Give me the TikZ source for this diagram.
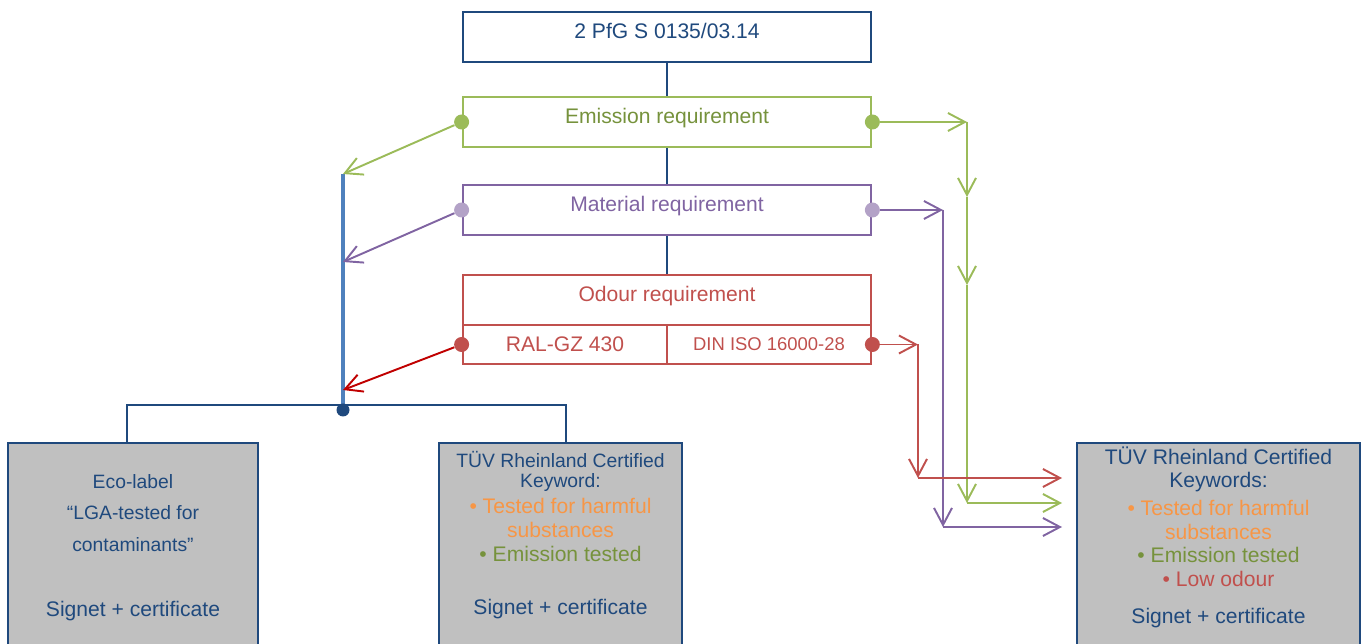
\documentclass[tikz,border=0pt]{standalone}
\usepackage{fontspec}
\setmainfont{Liberation Sans}
\usepackage{tikz}
\usetikzlibrary{arrows.meta}
\usetikzlibrary{positioning}
\usetikzlibrary{calc}

\definecolor{navy}{HTML}{1F497D}
\definecolor{lineblue}{HTML}{4F81BD}
\definecolor{emigreen}{HTML}{9BBB59}
\definecolor{textgreen}{HTML}{76923C}
\definecolor{matpurple}{HTML}{8064A2}
\definecolor{lightpurple}{HTML}{B3A2C7}
\definecolor{odred}{HTML}{C0504D}
\definecolor{darkred}{HTML}{C00000}
\definecolor{bulletorange}{HTML}{F79646}
\definecolor{cardgray}{HTML}{C0C0C0}

\tikzstyle{req} = [draw, rectangle, line width=1.6pt, minimum width=8.16cm, minimum height=1cm, text height=3mm, text depth=2.4mm, font=\fontsize{12}{14}\selectfont]
\tikzstyle{cell} = [draw=odred, text=odred, rectangle, line width=1.6pt, minimum width=4.08cm, minimum height=0.78cm]
\tikzstyle{card} = [draw=navy, fill=cardgray, rectangle, line width=1.6pt, minimum height=4.32cm]
\tikzstyle{dot} = [circle, inner sep=0pt, minimum size=0.3cm]
\tikzstyle{flow} = [-{Straight Barb[length=3.4mm, width=3.6mm]}, line width=1.1pt]
\tikzstyle{link} = [navy, line width=1.6pt]
\tikzstyle{big} = [font=\fontsize{12}{13.6}\selectfont, align=center]

\begin{document}
\begin{tikzpicture}[x=0.02cm, y=-0.02cm]
    \useasboundingbox (0,0) rectangle (1366,644);

    % requirement boxes
    \node[req, draw=navy, text=navy] (pfg) at (667,37) {2 PfG S 0135/03.14};
    \node[req, draw=emigreen, text=textgreen] (emis) at (667,122) {Emission requirement};
    \node[req, draw=matpurple, text=matpurple] (mat) at (667,210) {Material requirement};
    \node[req, draw=odred, text=odred] (odour) at (667,300) {Odour requirement};
    \node[cell, font=\fontsize{12}{14}\selectfont] (ral) at (565,344.5) {RAL-GZ 430};
    \node[cell, font=\fontsize{10.5}{12}\selectfont] (din) at (769,344.5) {DIN ISO 16000-28};

    \draw[link] (pfg) -- (emis);
    \draw[link] (emis) -- (mat);
    \draw[link] (mat) -- (odour);

    % labels at the bottom
    \node[card, minimum width=5cm] (eco) at (133,551) {};
    \node[card, minimum width=4.86cm] (tuevA) at (560.5,551) {};
    \node[card, minimum width=5.66cm] (tuevB) at (1218.5,551) {};

    \node[navy, align=center, font=\fontsize{11}{18.1}\selectfont] (ecotext) at (133,513)
       {Eco-label\\“LGA-tested for\\contaminants”};
    \node[navy, big] (ecosig) at (133,611) {Signet + certificate};

    \node[navy, align=center, font=\fontsize{11}{11.4}\selectfont] (tuevAhead) at (560.5,471)
       {TÜV Rheinland Certified\\Keyword:};
    \node[big] (tuevAitems) at (560.5,530)
       {\textcolor{bulletorange}{• Tested for harmful}\\
        \textcolor{bulletorange}{substances}\\
        \textcolor{textgreen}{• Emission tested}};
    \node[navy, big] (tuevAsig) at (560.5,609) {Signet + certificate};

    \node[navy, font=\fontsize{12}{13}\selectfont, align=center] (tuevBhead) at (1218.5,469.5)
       {TÜV Rheinland Certified\\Keywords:};
    \node[big] (tuevBitems) at (1218.5,543.5)
       {\textcolor{bulletorange}{• Tested for harmful}\\
        \textcolor{bulletorange}{substances}\\
        \textcolor{textgreen}{• Emission tested}\\
        \textcolor{odred}{• Low odour}};
    \node[navy, big] (tuevBsig) at (1218.5,618) {Signet + certificate};

    % trunk on the left
    \coordinate (hitE) at (343,174);
    \coordinate (hitM) at (343,262);
    \coordinate (hitO) at (343,390);
    \coordinate (split) at (343,405);
    \draw[lineblue, line width=1.8pt] (hitE) -- (split);
    \draw[link] ([xshift=-0.12cm]eco.north) |- (split) -| ([xshift=0.11cm]tuevA.north);
    \node[dot, fill=navy, minimum size=0.26cm] (knot) at (343,410) {};

    % connection dots
    \node[dot, fill=emigreen] (emisL) at (emis.west) {};
    \node[dot, fill=emigreen] (emisR) at (emis.east) {};
    \node[dot, fill=lightpurple] (matL) at (mat.west) {};
    \node[dot, fill=lightpurple] (matR) at (mat.east) {};
    \node[dot, fill=odred] (ralL) at (ral.west) {};
    \node[dot, fill=odred] (dinR) at (din.east) {};

    \draw[flow, emigreen] (emisL) -- (hitE);
    \draw[flow, matpurple] (matL) -- (hitM);
    \draw[flow, darkred] (ralL) -- (hitO);

    % routes to the right label
    \coordinate (gA) at (967,122);
    \coordinate (gB) at (967,197);
    \coordinate (gC) at (967,285);
    \coordinate (gD) at (967,503);
    \coordinate (gE) at (1062,503);
    \coordinate (pA) at (943,210);
    \coordinate (pB) at (943,527);
    \coordinate (pC) at (1062,527);
    \coordinate (rA) at (918,344.5);
    \coordinate (rB) at (918,478);
    \coordinate (rC) at (1062,478);

    \draw[flow, emigreen] (emisR) -- (gA);
    \draw[flow, emigreen] (gA) -- (gB);
    \draw[flow, emigreen] (gB) -- (gC);
    \draw[flow, emigreen] (gC) -- (gD);
    \draw[flow, emigreen] (gD) -- (gE);

    \draw[flow, matpurple] (matR) -- (pA);
    \draw[flow, matpurple] (pA) -- (pB);
    \draw[flow, matpurple] (pB) -- (pC);

    \draw[flow, odred] (dinR) -- (rA);
    \draw[flow, odred] (rA) -- (rB);
    \draw[flow, odred] (rB) -- (rC);
\end{tikzpicture}
\end{document}
